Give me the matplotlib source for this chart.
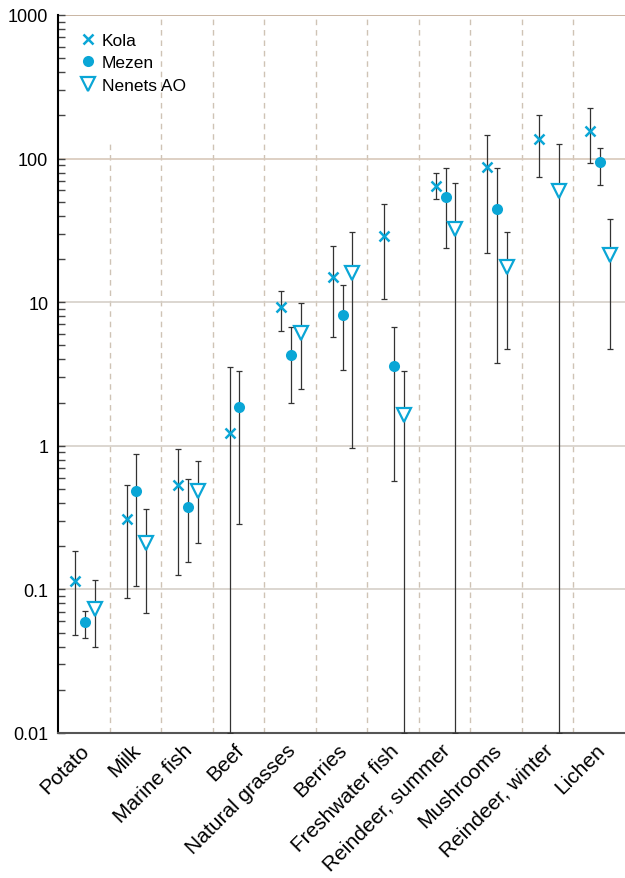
import matplotlib.pyplot as plt
import numpy as np

plt.rcParams['font.family'] = ['Liberation Sans', 'DejaVu Sans']

foods = ["Potato", "Milk", "Marine fish", "Beef", "Natural grasses", "Berries",
         "Freshwater fish", "Reindeer, summer", "Mushrooms", "Reindeer, winter", "Lichen"]

# Kola
kola = [0.115, 0.31, 0.536, 1.23, 9.2, 15.0, 29.0, 64.8, 87.8, 137, 155]
kola_lo = [0.0484, 0.0867, 0.125, 0.01, 6.27, 5.7, 10.5, 52.6, 21.9, 74.1, 93]
kola_hi = [0.184, 0.531, 0.955, 3.54, 12.0, 24.7, 48.5, 79.8, 146, 202, 224]

# Mezen
mezen = [0.0593, 0.482, 0.373, 1.87, 4.31, 8.18, 3.57, 54.0, 44.8, np.nan, 95.2]
mezen_lo = [0.0456, 0.105, 0.155, 0.285, 2.0, 3.39, 0.572, 23.9, 3.75, np.nan, 65.8]
mezen_hi = [0.0704, 0.877, 0.585, 3.32, 6.75, 13.1, 6.69, 85.6, 85.6, np.nan, 118]

# Nenets AO
nenets = [0.073, 0.21, 0.482, np.nan, 6.1, 16.0, 1.65, 32.3, 17.5, 59.8, 21.3]
nenets_lo = [0.0395, 0.069, 0.209, np.nan, 2.49, 0.96, 0.01, 0.01, 4.74, 0.01, 4.72]
nenets_hi = [0.117, 0.361, 0.78, np.nan, 9.83, 31.0, 3.32, 67.3, 30.7, 127, 38.2]

blue = '#0aa6d6'
ecol = '#333333'

fig = plt.figure(figsize=(6.25, 8.79), dpi=100)
ax = fig.add_axes([0.0928, 0.165, 0.9072, 0.8168])

x = np.arange(len(foods)) + 0.5

series = [
    ("Kola", kola, kola_lo, kola_hi, -0.17, dict(marker='x', ms=6.5, mew=1.8, color=blue, mfc=blue)),
    ("Mezen", mezen, mezen_lo, mezen_hi, 0.02, dict(marker='o', ms=8, mew=0, color=blue, mfc=blue)),
    ("Nenets AO", nenets, nenets_lo, nenets_hi, 0.21, dict(marker='v', ms=9.5, mew=1.6, color=blue, mfc='white')),
]

for name, v, lo, hi, off, style in series:
    v = np.array(v, dtype=float)
    lo = np.array(lo, dtype=float)
    hi = np.array(hi, dtype=float)
    ax.errorbar(x + off, v, yerr=[v - lo, hi - v], fmt='none', ecolor=ecol,
                elinewidth=0.9, capsize=2.3, capthick=0.9, zorder=3)
    ax.plot(x + off, v, linestyle='none', label=name, zorder=4, **style)

ax.set_yscale('log')
ax.set_ylim(0.01, 1000)
ax.set_xlim(0, len(foods))

# category separators
for i in range(1, len(foods)):
    top = 126 if i == 1 else 1000
    ax.plot([i, i], [0.01, top], color='#cfc3b5', lw=1, linestyle=(0, (4, 3.5)), zorder=1)

# horizontal grid
for g in [0.1, 1, 10]:
    ax.axhline(g, color='#d6d0c8', lw=1.2, zorder=1)
ax.axhline(100, color='#d8c8ba', lw=1.2, zorder=1)
ax.axhline(1000, color='#c9b5a3', lw=1.4, zorder=1)

ax.set_yticks([0.01, 0.1, 1, 10, 100, 1000])
ax.set_yticklabels(["0.01", "0.1", "1", "10", "100", "1000"])
ax.tick_params(axis='y', which='both', direction='in', length=5, width=1,
               color='#444444', labelsize=13, pad=7)
ax.tick_params(axis='y', which='minor', length=5)

ax.set_xticks(x + 0.05)
ax.set_xticklabels(foods, rotation=45, ha='right', va='center', rotation_mode='anchor')
ax.tick_params(axis='x', length=0, labelsize=15, pad=10)

for s in ['top', 'right']:
    ax.spines[s].set_visible(False)
ax.spines['left'].set_color('black')
ax.spines['left'].set_linewidth(1.5)
ax.spines['bottom'].set_color('#555555')
ax.spines['bottom'].set_linewidth(1.5)

ax.legend(loc='upper left', frameon=False, fontsize=12.5, handlelength=0.6,
          handletextpad=0.5, labelspacing=0.42, borderaxespad=0.2,
          bbox_to_anchor=(0.025, 0.99))

fig.savefig('out.png', dpi=100)
